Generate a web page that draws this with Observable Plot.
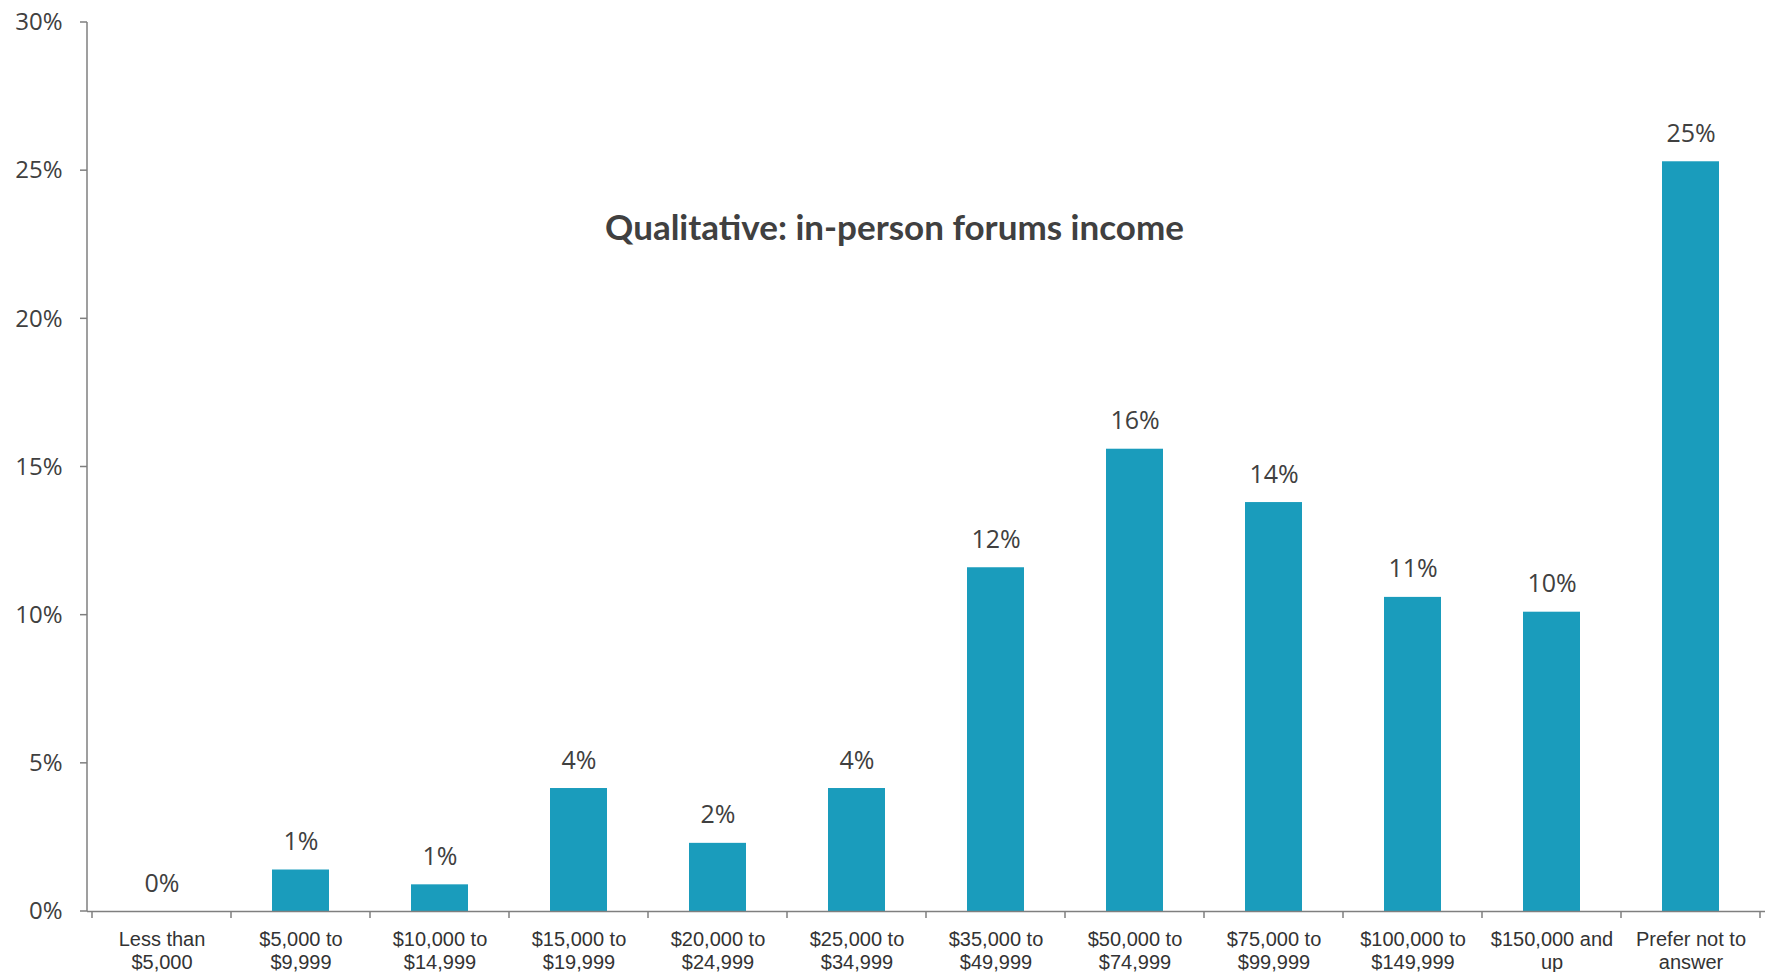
<!DOCTYPE html>
<html><head><meta charset="utf-8">
<script src="https://cdn.jsdelivr.net/npm/d3@7"></script>
<script src="https://cdn.jsdelivr.net/npm/@observablehq/plot@0.6"></script>
<style>body{margin:0;background:#fff}</style>
</head><body><div id="chart"></div>
<script>
const categories = ["Less than $5,000", "$5,000 to $9,999", "$10,000 to $14,999", "$15,000 to $19,999", "$20,000 to $24,999", "$25,000 to $34,999", "$35,000 to $49,999", "$50,000 to $74,999", "$75,000 to $99,999", "$100,000 to $149,999", "$150,000 and up", "Prefer not to answer"];
const tickLabels = ["Less than\n$5,000", "$5,000 to\n$9,999", "$10,000 to\n$14,999", "$15,000 to\n$19,999", "$20,000 to\n$24,999", "$25,000 to\n$34,999", "$35,000 to\n$49,999", "$50,000 to\n$74,999", "$75,000 to\n$99,999", "$100,000 to\n$149,999", "$150,000 and\nup", "Prefer not to\nanswer"];
const values = [0, 1.4, 0.9, 4.15, 2.3, 4.15, 11.6, 15.6, 13.8, 10.6, 10.1, 25.3];
const yTicks = [0, 5, 10, 15, 20, 25, 30];
const title = "Qualitative: in-person forums income";

const data = categories.map((c, i) => ({category: c, value: values[i]}));

const axisLines = (index, scales, vals, dimensions) => {
  const x = scales.x, y = scales.y;
  const step = x.step(), bw = x.bandwidth();
  const left = dimensions.marginLeft;
  const g = d3.create("svg:g").attr("stroke", "#7f7f7f").attr("stroke-width", 1.5).attr("fill", "none");
  const y0 = y(0);
  g.append("line").attr("x1", left).attr("x2", left).attr("y1", y(yTicks[yTicks.length - 1])).attr("y2", y0);
  for (const t of yTicks) {
    g.append("line").attr("x1", left - 7).attr("x2", left).attr("y1", y(t)).attr("y2", y(t));
  }
  const bounds = categories.map(c => x(c) + bw / 2 - step / 2);
  bounds.push(x(categories[categories.length - 1]) + bw / 2 + step / 2);
  for (const b of bounds) {
    g.append("line").attr("x1", b).attr("x2", b).attr("y1", y0).attr("y2", y0 + 7);
  }
  return g.node();
};

const chart = Plot.plot({
  width: 1773, height: 972,
  marginLeft: 87, marginRight: 8, marginTop: 22, marginBottom: 61,
  style: {background: "#fff"},
  x: {domain: categories, paddingInner: 0.59, paddingOuter: 0.295, label: null},
  y: {domain: [0, 30], label: null},
  marks: [
    Plot.barY(data, {x: "category", y: "value", fill: "#1a9cbc"}),
    Plot.ruleY([0], {stroke: "#7f7f7f", strokeWidth: 1.5}),
    axisLines,
    Plot.axisY({ticks: yTicks, tickFormat: d => d + "%", tickSize: 0, tickPadding: 25, fontSize: 24, fontFamily: "Open Sans", fill: "#404040", label: null}),
    Plot.axisX({tickSize: 0, tickPadding: 18, tickFormat: d => tickLabels[categories.indexOf(d)], fontSize: 20, fontFamily: "Liberation Sans", fill: "#333", lineHeight: 1.15, label: null}),
    Plot.text(data, {x: "category", y: "value", text: d => Math.round(d.value) + "%", lineAnchor: "bottom", dy: -20, fontSize: 25, fontFamily: "Open Sans", fill: "#404040"}),
    Plot.text([title], {frameAnchor: "top", dy: 193, dx: -32, fontSize: 35, fontWeight: 700, fontFamily: "Lato", fill: "#404040"})
  ]
});
document.getElementById("chart").appendChild(chart);
</script>
</body></html>
